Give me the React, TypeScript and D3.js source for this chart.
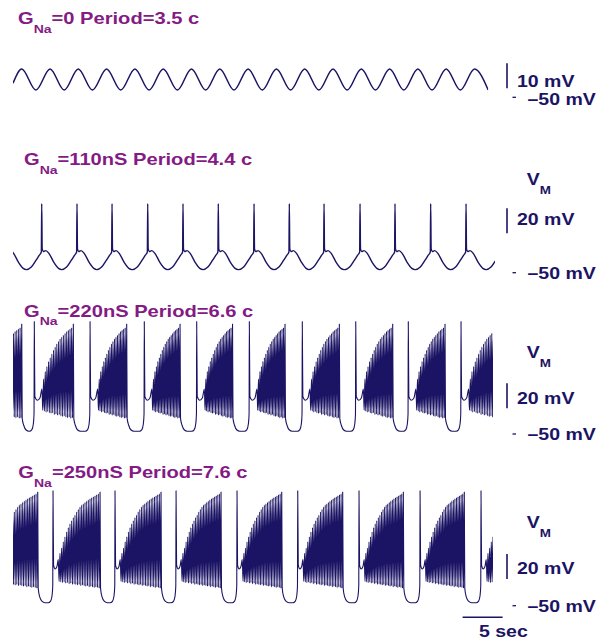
import React, { useEffect, useRef } from "react"
import * as d3 from "d3"

const W = 600
const H = 641
const FONT = "'Liberation Sans', Arial, sans-serif"
const STRETCH = 1.22
const TRACE_COLOR = "#1b1464"
const TITLE_COLOR = "#841a84"

// titles
const gNaValues = ["0", "110nS", "220nS", "250nS"]
const periods = ["3.5", "4.4", "6.6", "7.6"]
const scaleBarMv = [10, 20, 20, 20]
const restLabel = "\u201350 mV"
const timeBarSec = 5

// time axis (s)
const timeDomain = [0, 60]

// trace 1: G_Na = 0, slow oscillation (mV)
const trace1PeakTimes = [1.09, 4.63, 8.16, 11.7, 15.24, 18.78, 22.31, 25.85, 29.39, 32.93, 36.46, 40.0, 43.54, 47.08, 50.61, 54.15, 57.69]
const trace1TroughTimes = [2.86, 6.4, 9.93, 13.47, 17.01, 20.55, 24.08, 27.62, 31.16, 34.7, 38.23, 41.77, 45.31, 48.85, 52.38, 55.92, 59.4]
const trace1PeakV = -38.7
const trace1TroughV = -47.1
const trace1StartV = -44.4

// trace 2: single spikes riding on the oscillation
const trace2Spikes = [-0.83, 3.59, 8.0, 12.38, 16.84, 21.25, 25.66, 30.13, 34.54, 38.88, 43.38, 47.75, 52.21, 56.63, 61.05]
const trace2PreDt = [-1.9, -1.3, -0.7, -0.3, -0.05]
const trace2PreV = [-47.5, -45.5, -40, -36, -33.5]
const trace2PeakV = 5.2
const trace2PostDt = [0.06, 0.2, 0.5, 0.9, 1.5, 2.1, 2.5]
const trace2PostV = [-31, -33, -32.3, -34.5, -41.5, -46.5, -47.5]
const trace2End = 60.25

// trace 3: bursts, G_Na = 220nS
const trace3Tall = [2.66, 9.63, 16.41, 22.96, 29.54, 36.16, 42.84, 49.41, 56.0]
const trace3BurstEnd = [1.09, 7.54, 14.21, 20.88, 27.44, 34.0, 40.79, 47.46, 54.0]
const trace3Tops = [-14, -6, 0, 4, 8, 11, 14, 17, 19.5, 22, 24, 26, 27.5, 29, 30.5, 32, 33, 34, 35, 38]
const trace3Bottoms = [-31, -31.5, -32.5, -32, -33, -33.5, -33, -34.5, -34, -35, -34.5, -35.5, -36, -35.5, -36.5, -37, -36.5, -37.5, -37, -37.5]
const trace3Plateau = -21
const trace3TallPeak = 40
const trace3Trough = -47.8

// trace 4: bursts, G_Na = 250nS
const trace4Tall = [5.0, 12.75, 20.38, 28.0, 35.59, 43.25, 50.88, 58.5]
const trace4BurstEnd = [3.09, 10.88, 18.5, 26.0, 33.59, 41.21, 48.79, 56.41]
const trace4Tops = [-13, -8, -4, 1, 5, 9, 12.5, 15.5, 18, 20.5, 22.5, 25, 27, 29, 30.5, 31.5, 32.7, 33.7, 34.7, 35.7, 36.5, 37.2, 38, 38.8, 39.5, 41]
const trace4Bottoms = [-30.5, -31, -31.5, -31, -32, -31.5, -32.5, -32, -33, -32.5, -33, -33.5, -33, -34, -33.5, -34, -34.5, -34, -35, -34.5, -35, -35.5, -35, -35.5, -36, -35.8]
const trace4Plateau = -18.6
const trace4TallPeak = 42
const trace4Trough = -47.6

// layout of the four panels
const panels = [
  { titleX: 18, titleY: 24, y0: 97.3, pxPerMv: 2.5, barFrom: -46.4, barLabelY: 87.3, vmY: null, restY: 104.5 },
  { titleX: 24, titleY: 165, y0: 272.7, pxPerMv: 1.25, barFrom: -18.5, barLabelY: 225, vmY: 185, restY: 278.5 },
  { titleX: 24, titleY: 316.7, y0: 434, pxPerMv: 1.25, barFrom: -29.4, barLabelY: 404, vmY: 358.3, restY: 440 },
  { titleX: 18.3, titleY: 478.3, y0: 605.7, pxPerMv: 1.25, barFrom: -28.6, barLabelY: 574, vmY: 528.3, restY: 611.7 },
]

type Pt = [number, number]

function trace1Points(): Pt[] {
  const pts: Pt[] = [[0, trace1StartV]]
  trace1PeakTimes.forEach(t => pts.push([t, trace1PeakV]))
  trace1TroughTimes.forEach(t => pts.push([t, trace1TroughV]))
  return pts.sort((a, b) => a[0] - b[0])
}

function trace2Points(): Pt[] {
  const pts: Pt[] = []
  trace2Spikes.forEach((ts, i) => {
    const next = trace2Spikes[i + 1]
    trace2PreDt.forEach((dt, j) => {
      const t = ts + dt
      if (!pts.length || t > pts[pts.length - 1][0] + 0.005) pts.push([t, trace2PreV[j]])
    })
    pts.push([ts, trace2PeakV])
    trace2PostDt.forEach((dt, j) => {
      const t = ts + dt
      if (next === undefined || t < next + trace2PreDt[0] - 0.01) pts.push([t, trace2PostV[j]])
    })
  })
  return pts.filter(p => p[0] <= trace2End + 1)
}

function burstPoints(tall, ends, tops, bottoms, plateau, plateauDur, tallPeak, trough): Pt[] {
  const pts: Pt[] = []
  const n = tops.length
  const dur = ends[1] - tall[0] - plateauDur
  for (let k = 0; k <= tall.length; k++) {
    if (k > 0) {
      const T = tall[k - 1]
      pts.push([T, tallPeak])
      pts.push([T + 0.07, plateau + 1])
      pts.push([T + plateauDur * 0.4, plateau - 2])
      pts.push([T + plateauDur * 0.75, plateau])
    }
    const start = k === 0 ? ends[0] - dur : tall[k - 1] + plateauDur
    const stop = k < ends.length ? ends[k] : start + dur
    const step = (stop - start) / (n - 1)
    for (let i = 0; i < n; i++) {
      const s = start + i * step
      pts.push([s, tops[i]])
      if (i < n - 1) pts.push([s + step * 0.5, bottoms[i]])
    }
    if (k < tall.length) {
      const E = ends[k]
      const T = tall[k]
      pts.push([E + 0.06, bottoms[n - 1]])
      pts.push([E + 0.25, -43])
      pts.push([E + 0.55, trough + 1])
      pts.push([E + 0.9, trough])
      pts.push([T - 0.6, trough])
      pts.push([T - 0.3, trough + 1.3])
      pts.push([T - 0.12, -42])
      pts.push([T - 0.03, -34])
    }
  }
  return pts
}

export default function App() {
  const ref = useRef<SVGSVGElement>(null)

  useEffect(() => {
    const svg = d3.select(ref.current)
    svg.selectAll("*").remove()

    const x = d3.scaleLinear().domain(timeDomain).range([13, 493])

    const traces = [
      { pts: trace1Points(), end: 59.4, width: 1.5 },
      { pts: trace2Points(), end: trace2End, width: 1.4 },
      { pts: burstPoints(trace3Tall, trace3BurstEnd, trace3Tops, trace3Bottoms, trace3Plateau, 0.96, trace3TallPeak, trace3Trough), end: 60, width: 1.1 },
      { pts: burstPoints(trace4Tall, trace4BurstEnd, trace4Tops, trace4Bottoms, trace4Plateau, 0.66, trace4TallPeak, trace4Trough), end: 60, width: 1.1 },
    ]

    const defs = svg.append("defs")

    panels.forEach((p, i) => {
      const y = d3.scaleLinear()
        .domain([-50, -50 + scaleBarMv[i]])
        .range([p.y0, p.y0 - scaleBarMv[i] * p.pxPerMv])

      // title
      const t = svg.append("text")
        .attr("transform", `translate(${p.titleX},${p.titleY}) scale(${STRETCH},1)`)
        .attr("font-family", FONT)
        .attr("font-weight", "bold")
        .attr("font-size", 16.5)
        .attr("fill", TITLE_COLOR)
      t.append("tspan").text("G")
      t.append("tspan").attr("font-size", 11.5).attr("dy", 8.5).text("Na")
      t.append("tspan").attr("dy", -8.5).text(`=${gNaValues[i]} Period=${periods[i]} c`)

      // trace
      const tr = traces[i]
      defs.append("clipPath").attr("id", "clip" + i)
        .append("rect")
        .attr("x", x(0)).attr("y", 0)
        .attr("width", x(tr.end) - x(0)).attr("height", H)
      const line = d3.line<Pt>()
        .x(d => x(d[0]))
        .y(d => y(d[1]))
        .curve(d3.curveMonotoneX)
      svg.append("path")
        .attr("d", line(tr.pts))
        .attr("clip-path", `url(#clip${i})`)
        .attr("fill", "none")
        .attr("stroke", TRACE_COLOR)
        .attr("stroke-width", tr.width)
        .attr("stroke-linejoin", "round")

      // scale bar
      svg.append("line")
        .attr("x1", 507).attr("x2", 507)
        .attr("y1", y(p.barFrom)).attr("y2", y(p.barFrom + scaleBarMv[i]))
        .attr("stroke", TRACE_COLOR).attr("stroke-width", 1.6)
      svg.append("line")
        .attr("x1", 512.5).attr("x2", 516)
        .attr("y1", y(-50)).attr("y2", y(-50))
        .attr("stroke", TRACE_COLOR).attr("stroke-width", 1.3)

      const label = (lx, ly, txt, size = 16) =>
        svg.append("text")
          .attr("transform", `translate(${lx},${ly}) scale(${STRETCH},1)`)
          .attr("font-family", FONT)
          .attr("font-weight", "bold")
          .attr("font-size", size)
          .attr("fill", TRACE_COLOR)
          .text(txt)

      label(517, p.barLabelY, `${scaleBarMv[i]} mV`)
      label(527.5, p.restY, restLabel)
      if (p.vmY !== null) {
        const v = label(526.7, p.vmY, "V")
        v.append("tspan").attr("font-size", 11).attr("dy", 8.5).text("M")
      }
    })

    // time scale bar
    const t0 = 56.2
    svg.append("line")
      .attr("x1", x(t0)).attr("x2", x(t0 + timeBarSec))
      .attr("y1", 617.3).attr("y2", 617.3)
      .attr("stroke", TRACE_COLOR).attr("stroke-width", 1.4)
    svg.append("text")
      .attr("transform", `translate(479,637.3) scale(${STRETCH},1)`)
      .attr("font-family", FONT)
      .attr("font-weight", "bold")
      .attr("font-size", 16)
      .attr("fill", TRACE_COLOR)
      .text(`${timeBarSec} sec`)
  }, [])

  return (
    <svg
      ref={ref}
      width={W}
      height={H}
      style={{ position: "absolute", left: 0, top: 0, background: "#fff" }}
    />
  )
}
